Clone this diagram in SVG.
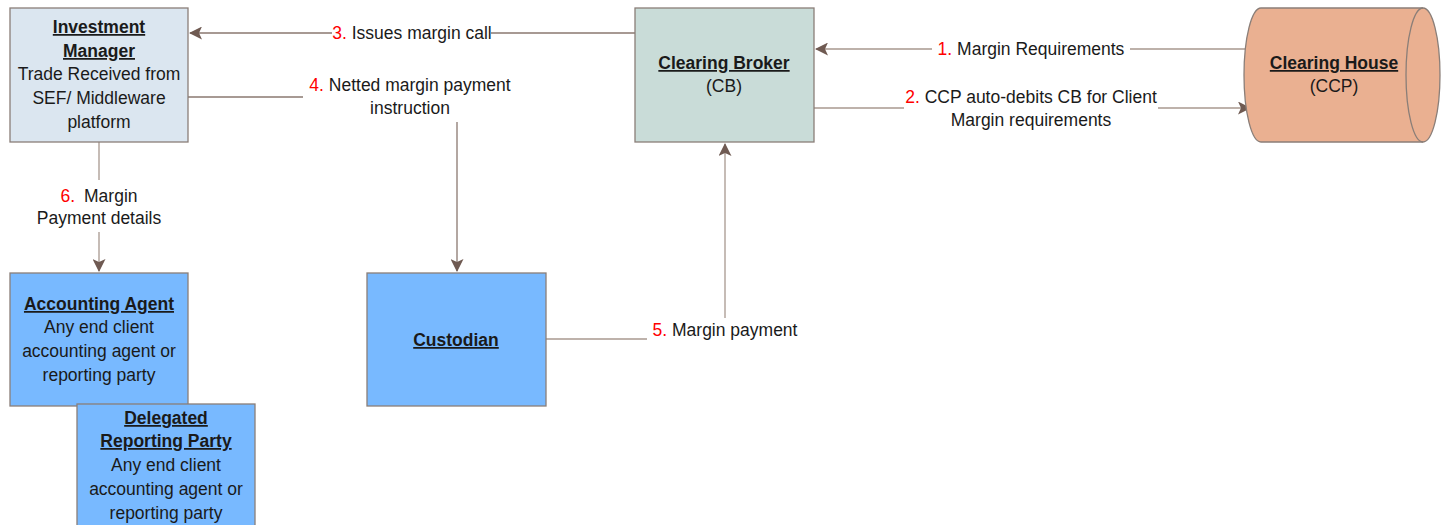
<svg xmlns="http://www.w3.org/2000/svg" width="1447" height="525" viewBox="0 0 1447 525">
<defs>
<marker id="ah" markerWidth="13" markerHeight="13" refX="12" refY="6.5" orient="auto" markerUnits="userSpaceOnUse" viewBox="0 0 13 13">
<path d="M0,0 L13,6.5 L0,13 L3,6.5 Z" fill="#6f5a52"/>
</marker>
<style>
.box{stroke:#8a7e78;stroke-width:1.3}
.t{font-family:"Liberation Sans",Arial,sans-serif;font-size:17.5px;fill:#1a1a1a;text-anchor:middle}
.b{font-weight:bold;text-decoration:underline}
.n{fill:#ff0000}
.c{fill:none;stroke:#8a7870;stroke-width:1.3}
.cl{fill:none;stroke:#a8988f;stroke-width:1.3}
</style>
</defs>
<g id="connectors">
<path class="c" d="M635,33 H491 M332,33 H190" marker-end="url(#ah)"/>
<path class="c" d="M188,97 H303"/>
<path class="c" d="M457,122 V271" marker-end="url(#ah)"/>
<path class="cl" d="M1246,49 H1130 M932,49 H816" marker-end="url(#ah)"/>
<path class="cl" d="M814,108 H904"/>
<path class="cl" d="M1158,108 H1250" marker-end="url(#ah)"/>
<path class="cl" d="M546,339 H647"/>
<path class="cl" d="M725,318 V144" marker-end="url(#ah)"/>
<path class="cl" d="M99,142 V180"/>
<path class="cl" d="M99,232 V271" marker-end="url(#ah)"/>
<text class="t" x="412" y="39"><tspan class="n">3.</tspan> Issues margin call</text>
<text class="t" x="410" y="91"><tspan class="n">4.</tspan> Netted margin payment</text>
<text class="t" x="410" y="114">instruction</text>
<text class="t" x="1031" y="55"><tspan class="n">1.</tspan> Margin Requirements</text>
<text class="t" x="1031" y="103"><tspan class="n">2.</tspan> CCP auto-debits CB for Client</text>
<text class="t" x="1031" y="126">Margin requirements</text>
<text class="t" x="725" y="336"><tspan class="n">5.</tspan> Margin payment</text>
<text class="t" x="99" y="202"><tspan class="n">6.</tspan><tspan dx="9">Margin</tspan></text>
<text class="t" x="99" y="224">Payment details</text>
</g>
<g id="investment-manager">
<rect class="box" x="10" y="8" width="178" height="134" fill="#dbe6f0"/>
<text class="t" x="99" y="33"><tspan class="b">Investment</tspan></text>
<text class="t" x="99" y="57"><tspan class="b">Manager</tspan></text>
<text class="t" x="99" y="80">Trade Received from</text>
<text class="t" x="99" y="104">SEF/ Middleware</text>
<text class="t" x="99" y="128">platform</text>
</g>
<g id="clearing-broker">
<rect class="box" x="635" y="8" width="179" height="134" fill="#c9dcd8"/>
<text class="t" x="724" y="69"><tspan class="b">Clearing Broker</tspan></text>
<text class="t" x="724" y="92">(CB)</text>
</g>
<g id="clearing-house">
<path class="box" d="M1261,8 H1423 A17,67 0 0 1 1423,142 H1261 A17,67 0 0 1 1261,8 Z" fill="#eab091"/>
<path class="box" fill="none" d="M1423,8 A17,67 0 0 0 1423,142"/>
<text class="t" x="1334" y="69"><tspan class="b">Clearing House</tspan></text>
<text class="t" x="1334" y="92">(CCP)</text>
</g>
<g id="accounting-agent">
<rect class="box" x="10" y="273" width="178" height="133" fill="#78b9ff"/>
<text class="t" x="99" y="310"><tspan class="b">Accounting Agent</tspan></text>
<text class="t" x="99" y="333">Any end client</text>
<text class="t" x="99" y="357">accounting agent or</text>
<text class="t" x="99" y="381">reporting party</text>
</g>
<g id="delegated-reporting-party">
<rect class="box" x="77" y="404" width="178" height="130" fill="#78b9ff"/>
<text class="t" x="166" y="424"><tspan class="b">Delegated</tspan></text>
<text class="t" x="166" y="447"><tspan class="b">Reporting Party</tspan></text>
<text class="t" x="166" y="471">Any end client</text>
<text class="t" x="166" y="495">accounting agent or</text>
<text class="t" x="166" y="519">reporting party</text>
</g>
<g id="custodian">
<rect class="box" x="367" y="273" width="179" height="133" fill="#78b9ff"/>
<text class="t" x="456" y="346"><tspan class="b">Custodian</tspan></text>
</g>
</svg>
